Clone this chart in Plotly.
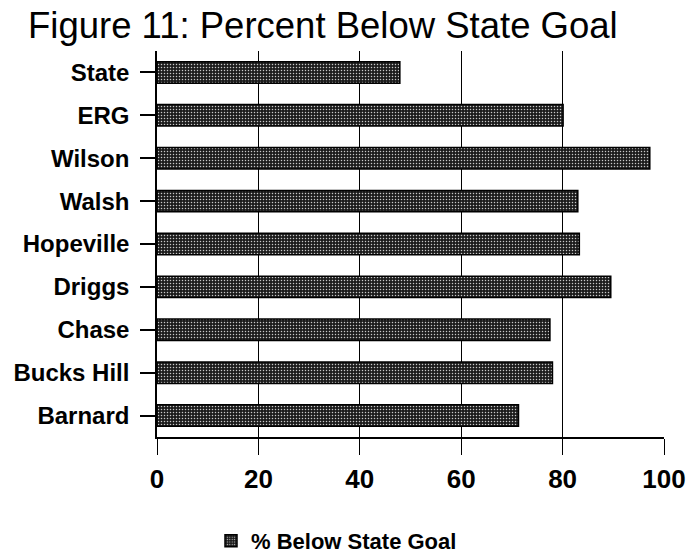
import plotly.graph_objects as go

schools = ["State", "ERG", "Wilson", "Walsh", "Hopeville", "Driggs", "Chase", "Bucks Hill", "Barnard"]
pct_below = [47.9, 80.1, 97.2, 83.0, 83.3, 89.5, 77.5, 78.0, 71.3]
x_ticks = [0, 20, 40, 60, 80, 100]
series_name = "% Below State Goal"
title_text = "Figure 11: Percent Below State Goal"

W, H = 687, 558
FONT = "Liberation Sans, Arial, sans-serif"

fig = go.Figure()
fig.add_trace(go.Bar(
    x=pct_below,
    y=schools,
    orientation="h",
    name=series_name,
    width=0.5,
    marker=dict(
        color="#1c1c1c",
        line=dict(color="black", width=1.5),
        pattern=dict(shape=".", fillmode="replace", bgcolor="#1c1c1c",
                     fgcolor="#c8c8c8", size=3, solidity=0.2),
    ),
    showlegend=True,
))

fig.update_layout(
    width=W, height=H,
    margin=dict(l=157, r=23, t=51, b=121, autoexpand=False),
    paper_bgcolor="white",
    plot_bgcolor="white",
    font=dict(family=FONT, color="black"),
    title=dict(
        text=title_text,
        font=dict(family=FONT, size=36.5, color="black"),
        x=28 / W, xanchor="left", xref="container",
        y=1 - 25 / H, yanchor="middle", yref="container",
        pad=dict(l=0, t=0, b=0, r=0),
    ),
    legend=dict(
        orientation="h",
        x=211 / W, xanchor="left", xref="container",
        y=1 - 541 / H, yanchor="middle", yref="container",
        font=dict(family=FONT, size=22, color="black", weight="bold"),
        bgcolor="rgba(0,0,0,0)",
        itemwidth=30,
    ),
)

fig.update_xaxes(
    range=[0, 100],
    tickvals=x_ticks,
    ticktext=[str(v) for v in x_ticks],
    showgrid=True, gridcolor="black", gridwidth=1,
    showline=True, linecolor="black", linewidth=2,
    ticks="outside", ticklen=16, tickwidth=1, tickcolor="black",
    tickfont=dict(family=FONT, size=26, color="black", weight="bold"),
    ticklabelstandoff=2,
    zeroline=False,
    fixedrange=True,
)
fig.update_yaxes(
    categoryorder="array",
    categoryarray=schools[::-1],
    autorange=False,
    range=[-0.5, len(schools) - 0.5],
    showgrid=False,
    showline=True, linecolor="black", linewidth=1.5,
    ticks="outside", ticklen=15, tickwidth=1.5, tickcolor="black",
    tickfont=dict(family=FONT, size=24, color="black", weight="bold"),
    ticklabelstandoff=6,
    fixedrange=True,
)

fig.write_html("out.html")
